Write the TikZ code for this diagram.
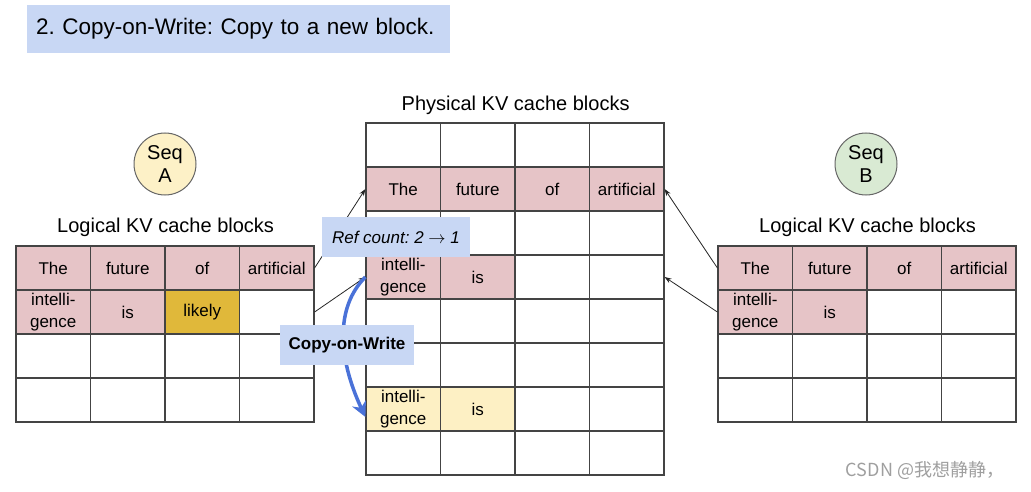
\documentclass[tikz,border=0pt]{standalone}
\usepackage{fontspec}
\setmainfont{Liberation Sans}
\newfontfamily\cjkfont{Noto Sans CJK SC}
\usetikzlibrary{positioning, arrows.meta}
\frenchspacing

\definecolor{cellpink}{HTML}{E6C4C7}
\definecolor{celllight}{HTML}{FDF0C4}
\definecolor{cellgold}{HTML}{E0B83A}
\definecolor{labelblue}{HTML}{C8D7F4}
\definecolor{gridgray}{HTML}{444444}
\definecolor{seqyellow}{HTML}{FDF1C7}
\definecolor{seqgreen}{HTML}{D9EAD3}
\definecolor{cowblue}{HTML}{4A72D8}

\tikzset{
  cell/.style={draw=gridgray, line width=1.2pt, minimum width=74.5pt, minimum height=44pt,
    inner sep=0pt, align=center, font=\fontsize{17}{22}\selectfont},
  seq/.style={circle, draw=gray!80!black, line width=1pt, minimum size=62pt, inner sep=0pt,
    align=center, font=\fontsize{20}{23}\selectfont},
  caption/.style={font=\fontsize{20}{24}\selectfont},
  tag/.style={fill=labelblue, inner sep=0pt, minimum height=40pt},
  link/.style={-{Stealth[length=7pt,width=5pt]}, line width=0.8pt, black!85},
}

\begin{document}
\begin{tikzpicture}[x=1pt, y=-1pt]
    \useasboundingbox (0,0) rectangle (1031,492);

    % Title
    \node[fill=labelblue, inner xsep=9pt, text width=405pt, minimum height=48pt, align=left,
      font=\fontsize{22.5}{26}\selectfont] (title) at (238.5,29) {2. Copy-on-Write: Copy to a new block.};

    % Empty grids: logical A, physical, logical B
    \foreach \r in {1,...,4}
      \foreach \c in {1,...,4} {
        \node[cell] (L-\r-\c) at ({16+74.5*(\c-0.5)}, {246+44*(\r-0.5)}) {};
        \node[cell] (R-\r-\c) at ({718+74.5*(\c-0.5)}, {246+44*(\r-0.5)}) {};
      }
    \foreach \r in {1,...,8}
      \foreach \c in {1,...,4}
        \node[cell] (P-\r-\c) at ({366+74.5*(\c-0.5)}, {123+44*(\r-0.5)}) {};

    % Filled cells
    \foreach \r/\c/\txt/\fil in {1/1/The/cellpink, 1/2/future/cellpink, 1/3/of/cellpink, 1/4/artificial/cellpink,
        2/1/intelli-\\gence/cellpink, 2/2/is/cellpink, 2/3/likely/cellgold}
      \node[cell, fill=\fil] (L-\r-\c) at (L-\r-\c) {\txt};
    \foreach \r/\c/\txt/\fil in {1/1/The/cellpink, 1/2/future/cellpink, 1/3/of/cellpink, 1/4/artificial/cellpink,
        2/1/intelli-\\gence/cellpink, 2/2/is/cellpink}
      \node[cell, fill=\fil] (R-\r-\c) at (R-\r-\c) {\txt};
    \foreach \r/\c/\txt/\fil in {2/1/The/cellpink, 2/2/future/cellpink, 2/3/of/cellpink, 2/4/artificial/cellpink,
        4/1/intelli-\\gence/cellpink, 4/2/is/cellpink, 7/1/intelli-\\gence/celllight, 7/2/is/celllight}
      \node[cell, fill=\fil] (P-\r-\c) at (P-\r-\c) {\txt};

    % Captions and sequences
    \node[caption, above=5pt of L-1-2.north east] (logA) {Logical KV cache blocks};
    \node[caption, above=5pt of R-1-2.north east] (logB) {Logical KV cache blocks};
    \node[caption, above=4pt of P-1-2.north east] (phys) {Physical KV cache blocks};
    \node[seq, fill=seqyellow] (seqA) at (165,164) {Seq\\A};
    \node[seq, fill=seqgreen] (seqB) at (866,164) {Seq\\B};

    % Block table links
    \draw[link] (L-1-4.east) -- (P-2-1.west);
    \draw[link] (L-2-4.east) -- (P-4-1.west);
    \draw[link] (R-1-1.west) -- (P-2-4.east);
    \draw[link] (R-2-1.west) -- (P-4-4.east);

    % Copy arrow
    \draw[cowblue, line width=3.5pt, -{Stealth[length=15pt,width=15pt]}]
      (P-4-1.west) .. controls +(-30,30) and +(-28,-60) .. ([yshift=-8pt]P-7-1.west);

    % Tags
    \node[tag, minimum width=148pt, font=\itshape\fontsize{17}{20}\selectfont] (refcount) at (396,237) {Ref count: 2 $\rightarrow$ 1};
    \node[tag, minimum width=134pt, font=\bfseries\fontsize{17}{20}\selectfont] (cow) at (347,345) {Copy-on-Write};

    \node[text=gray!75, font=\cjkfont\fontsize{18}{20}\selectfont] (mark) at (925,470) {CSDN @我想静静，};
\end{tikzpicture}
\end{document}
